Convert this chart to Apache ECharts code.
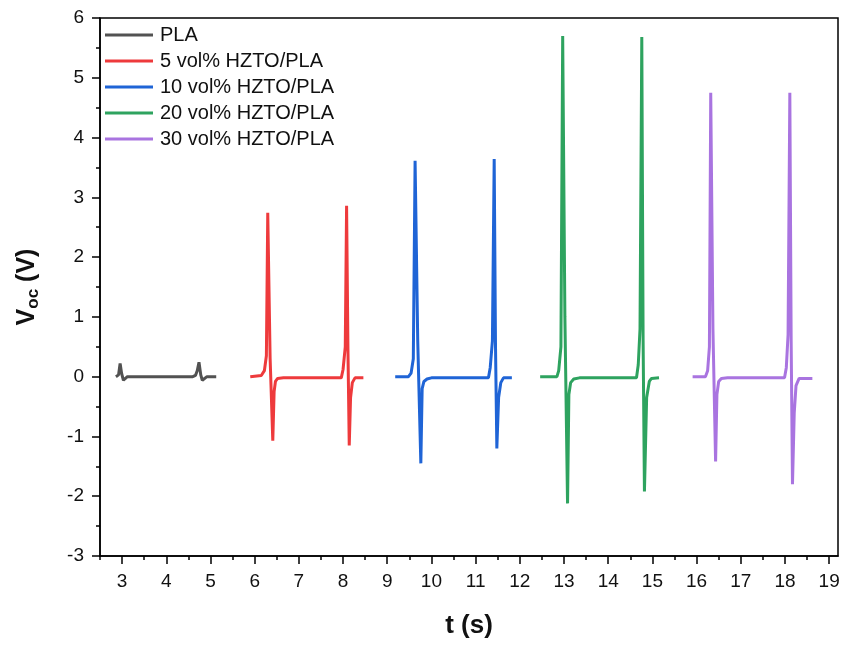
<!DOCTYPE html>
<html><head><meta charset="utf-8">
<script src="https://cdn.jsdelivr.net/npm/echarts@6/dist/echarts.min.js"></script>
<style>html,body{margin:0;padding:0;background:#fff}#c{width:849px;height:645px}</style>
</head><body><div id="c"></div>
<script>
const seriesNames = ['PLA', '5 vol% HZTO/PLA', '10 vol% HZTO/PLA', '20 vol% HZTO/PLA', '30 vol% HZTO/PLA'];
const seriesColors = ['#525252', '#ee3a3c', '#1f64d6', '#2ea35f', '#a974e0'];

const plaT = [2.86, 2.92, 2.955, 2.99, 3.03, 3.07, 3.12, 3.20, 4.60, 4.66, 4.70, 4.74, 4.78, 4.815, 4.855, 4.92, 5.13];
const plaV = [0, 0.03, 0.22, 0.05, -0.06, -0.07, 0, 0, 0, 0.02, 0.1, 0.24, 0.03, -0.06, -0.07, 0, 0];

const v5T = [5.90, 6.15, 6.22, 6.265, 6.296, 6.35, 6.41, 6.44, 6.47, 6.52, 6.65, 7.96, 8.00, 8.05, 8.08, 8.11, 8.14, 8.17, 8.21, 8.27, 8.46];
const v5V = [0, 0.02, 0.10, 0.35, 2.74, 0.3, -1.07, -0.25, -0.08, -0.03, -0.02, -0.02, 0.12, 0.5, 2.86, 0.5, -1.15, -0.35, -0.10, -0.02, -0.02];

const v10T = [9.18, 9.48, 9.54, 9.59, 9.63, 9.69, 9.76, 9.79, 9.83, 9.90, 10.0, 11.29, 11.33, 11.38, 11.42, 11.45, 11.48, 11.52, 11.57, 11.63, 11.82];
const v10V = [0, 0, 0.06, 0.3, 3.61, 0.6, -1.45, -0.2, -0.08, -0.04, -0.02, -0.02, 0.15, 0.6, 3.64, 0.5, -1.2, -0.35, -0.1, -0.02, -0.02];

const v20T = [12.46, 12.84, 12.88, 12.93, 12.97, 13.02, 13.08, 13.11, 13.15, 13.22, 13.35, 14.64, 14.68, 14.72, 14.76, 14.79, 14.82, 14.87, 14.93, 14.98, 15.15];
const v20V = [0, 0, 0.1, 0.5, 5.70, 1.0, -2.12, -0.3, -0.1, -0.04, -0.02, -0.02, 0.2, 0.8, 5.68, 0.6, -1.92, -0.35, -0.08, -0.03, -0.02];

const v30T = [15.91, 16.20, 16.25, 16.29, 16.32, 16.37, 16.43, 16.46, 16.50, 16.56, 16.70, 17.99, 18.03, 18.07, 18.11, 18.14, 18.17, 18.21, 18.25, 18.32, 18.62];
const v30V = [0, 0, 0.1, 0.5, 4.75, 0.8, -1.42, -0.3, -0.08, -0.03, -0.02, -0.02, 0.15, 0.7, 4.75, 0.6, -1.80, -0.6, -0.15, -0.03, -0.03];

const xTickValues = [3, 4, 5, 6, 7, 8, 9, 10, 11, 12, 13, 14, 15, 16, 17, 18, 19];
const xMinorValues = [2.5, 3.5, 4.5, 5.5, 6.5, 7.5, 8.5, 9.5, 10.5, 11.5, 12.5, 13.5, 14.5, 15.5, 16.5, 17.5, 18.5];

const allT = [plaT, v5T, v10T, v20T, v30T];
const allV = [plaV, v5V, v10V, v20V, v30V];

const FONT = '"Liberation Sans", Arial, sans-serif';
const chart = echarts.init(document.getElementById('c'));
chart.setOption({
  animation: false,
  backgroundColor: '#fff',
  grid: { left: 100, right: 11, top: 18, bottom: 89, show: true, borderColor: '#000', borderWidth: 1.5, backgroundColor: 'transparent' },
  legend: {
    orient: 'vertical', left: 100, top: 20,
    icon: 'rect', itemWidth: 48, itemHeight: 3, itemGap: 6,
    textStyle: { fontFamily: FONT, fontSize: 20, color: '#111', padding: [0, 0, 0, 2] },
    data: seriesNames
  },
  xAxis: [{
    type: 'value', min: 2.5, max: 19.2,
    name: 't (s)', nameLocation: 'middle', nameGap: 57,
    nameTextStyle: { fontFamily: FONT, fontSize: 26, fontWeight: 'bold', color: '#111' },
    axisLine: { show: true, onZero: false, lineStyle: { color: '#000', width: 1.5 } },
    axisTick: { show: true, length: 8, lineStyle: { color: '#000', width: 1.5 }, customValues: xTickValues },
    axisLabel: { fontFamily: FONT, fontSize: 19, color: '#111', margin: 16, customValues: xTickValues },
    splitLine: { show: false }
  }, {
    type: 'value', min: 2.5, max: 19.2, position: 'bottom',
    axisLine: { show: false, onZero: false },
    axisTick: { show: true, length: 4, lineStyle: { color: '#000', width: 1.5 }, customValues: xMinorValues },
    axisLabel: { show: false },
    splitLine: { show: false }
  }],
  yAxis: {
    type: 'value', min: -3, max: 6, interval: 1,
    name: '{a|V}{b|oc}{a| (V)}', nameLocation: 'middle', nameGap: 58, nameRotate: 90,
    nameTextStyle: {
      rich: {
        a: { fontFamily: FONT, fontSize: 25, fontWeight: 'bold', color: '#111', lineHeight: 30, verticalAlign: 'middle' },
        b: { fontFamily: FONT, fontSize: 17, fontWeight: 'bold', color: '#111', lineHeight: 30, verticalAlign: 'bottom', padding: [14, 0, 0, 0] }
      }
    },
    axisLine: { show: true, onZero: false, lineStyle: { color: '#000', width: 1.5 } },
    axisTick: { show: true, length: 8, lineStyle: { color: '#000', width: 1.5 } },
    minorTick: { show: true, splitNumber: 2, length: 4, lineStyle: { color: '#000', width: 1.5 } },
    axisLabel: { fontFamily: FONT, fontSize: 19, color: '#111', margin: 16 },
    splitLine: { show: false }
  },
  series: seriesNames.map((n, i) => ({
    name: n, type: 'line', xAxisIndex: 0,
    symbol: 'none', smooth: false,
    lineStyle: { color: seriesColors[i], width: 3 },
    itemStyle: { color: seriesColors[i] },
    data: allT[i].map((t, j) => [t, allV[i][j]])
  }))
});
</script></body></html>
